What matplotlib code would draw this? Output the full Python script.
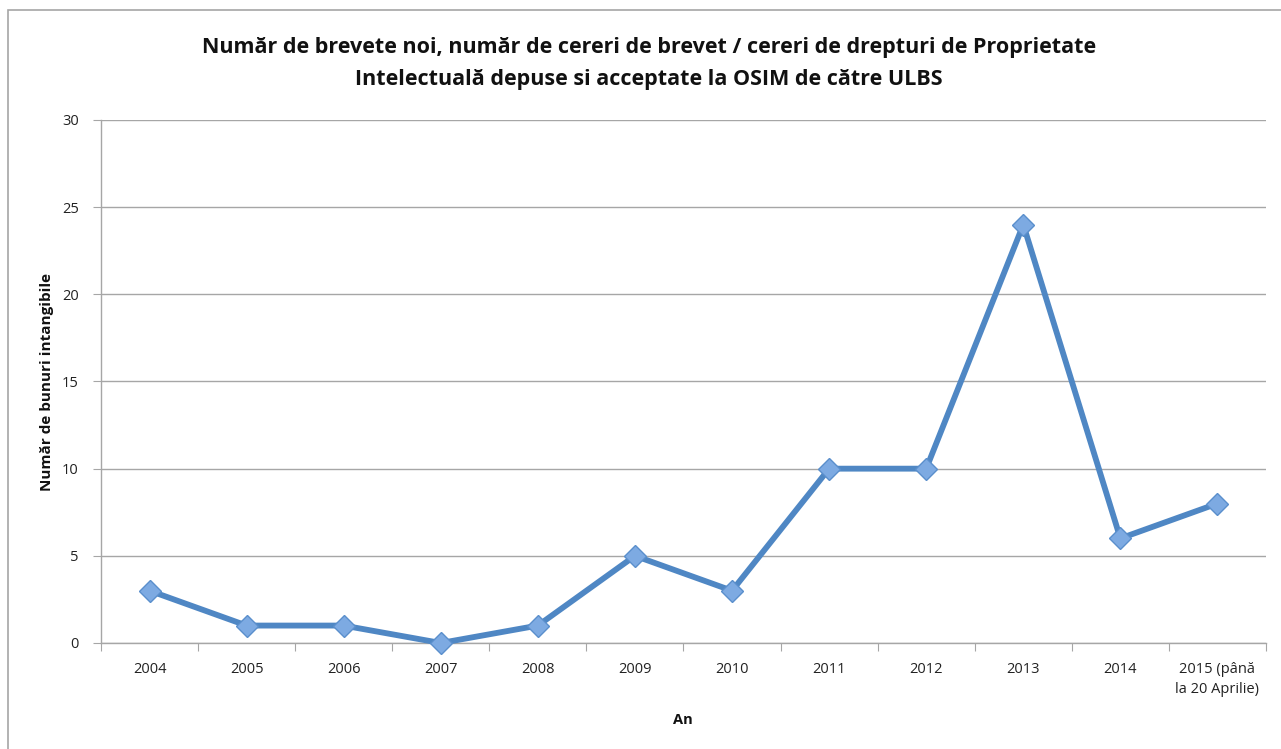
import matplotlib
matplotlib.use("Agg")
import matplotlib.pyplot as plt
from matplotlib.patches import Rectangle

categories = ["2004", "2005", "2006", "2007", "2008", "2009", "2010",
              "2011", "2012", "2013", "2014", "2015 (până\nla 20 Aprilie)"]
values = [3, 1, 1, 0, 1, 5, 3, 10, 10, 24, 6, 8]
yticks = [0, 5, 10, 15, 20, 25, 30]

plt.rcParams['font.family'] = ['Open Sans', 'DejaVu Sans']

W, H = 1281, 749
fig = plt.figure(figsize=(W / 100, H / 100), dpi=100)
fig.patch.set_facecolor('white')

# outer border
fig.patches.append(Rectangle((8 / W, -0.05), 1.2, (H - 10) / H + 0.05,
                             transform=fig.transFigure, fill=False,
                             edgecolor='#A6A6A6', linewidth=1.2))

ax = fig.add_axes([101 / W, (H - 643) / H, 1165 / W, (643 - 120) / H])
x = list(range(len(categories)))
ax.plot(x, values, color='#4F87C4', linewidth=4.2, zorder=3,
        solid_joinstyle='miter', clip_on=False)
ax.plot(x, values, linestyle='none', marker='D', markersize=11.5,
        markerfacecolor='#7DAAE2', markeredgecolor='#5A8FCC',
        markeredgewidth=1.0, zorder=4, clip_on=False)

ax.set_xlim(-0.5, len(categories) - 0.5)
ax.set_ylim(0, 30)
ax.set_yticks(yticks)
ax.set_yticklabels([str(v) for v in yticks], fontsize=10.5, color='#222222')
ax.yaxis.grid(True, color='#A6A6A6', linewidth=1.0)
ax.set_axisbelow(True)

ax.set_xticks([i - 0.5 for i in range(len(categories) + 1)])
ax.set_xticklabels([])
ax.set_xticks(x, minor=True)
ax.set_xticklabels(categories, minor=True, fontsize=10.5, color='#222222',
                   linespacing=1.45, va='top')
ax.tick_params(axis='x', which='minor', length=0, pad=14)
ax.tick_params(axis='x', which='major', length=6, color='#A6A6A6', direction='out')
ax.tick_params(axis='y', length=6, color='#A6A6A6', direction='out', pad=10)

for s in ['top', 'right']:
    ax.spines[s].set_visible(False)
for s in ['left', 'bottom']:
    ax.spines[s].set_color('#A6A6A6')
    ax.spines[s].set_linewidth(1.0)

fig.text(649 / W, 1 - 47 / H,
         "Număr de brevete noi, număr de cereri de brevet / cereri de drepturi de Proprietate",
         ha='center', va='center', fontsize=15.5, fontweight='bold', color='#111111')
fig.text(649 / W, 1 - 80 / H,
         "Intelectuală depuse si acceptate la OSIM de către ULBS",
         ha='center', va='center', fontsize=15.5, fontweight='bold', color='#111111')

fig.text(683 / W, 1 - 720 / H, "An", ha='center', va='center',
         fontsize=10.5, fontweight='bold', color='#111111')
fig.text(47 / W, 1 - 382 / H, "Număr de bunuri intangibile", ha='center', va='center',
         rotation=90, fontsize=11, fontweight='bold', color='#111111')

fig.savefig("out.png", dpi=100)
